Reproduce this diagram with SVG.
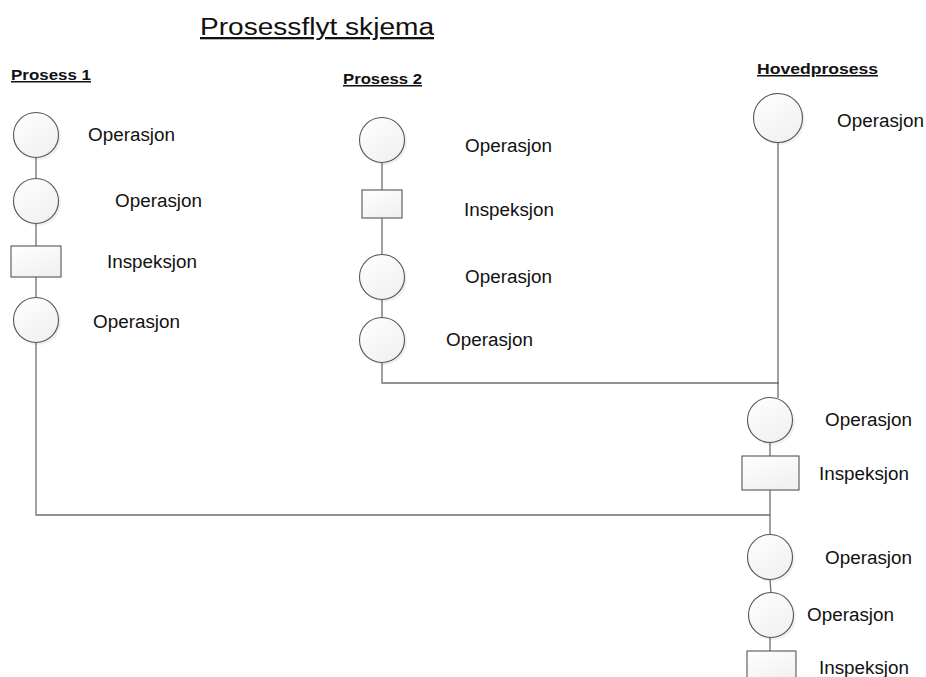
<svg xmlns="http://www.w3.org/2000/svg" width="926" height="677" viewBox="0 0 926 677">
  <style>
    text { font-family: "Liberation Sans", Arial, sans-serif; fill: #111; }
    .title { font-size: 23px; text-decoration: underline; }
    .head { font-size: 15px; font-weight: bold; text-decoration: underline; }
    .lbl { font-size: 18px; }
    .op { fill: url(#shade); stroke: #555; stroke-width: 1.1; }
    .insp { fill: url(#shade); stroke: #555; stroke-width: 1.1; }
    .shadow { fill: #000; opacity: 0.06; }
    .conn { fill: none; stroke: #6f6f6f; stroke-width: 1.3; }
  </style>
  <defs>
    <linearGradient id="shade" x1="0" y1="0" x2="0.6" y2="1">
      <stop offset="0" stop-color="#ffffff"/>
      <stop offset="1" stop-color="#f1f1f1"/>
    </linearGradient>
  </defs>
  <rect width="926" height="677" fill="#fff"/>

  <text class="title" x="200" y="35" textLength="234" lengthAdjust="spacingAndGlyphs">Prosessflyt skjema</text>

  <!-- connectors -->
  <g id="connectors">
    <!-- Prosess 1 -->
    <path class="conn" d="M36 157 V179 M36 224 V246 M36 277 V298 M36 343 V515 H770"/>
    <!-- Prosess 2 -->
    <path class="conn" d="M382 163 V190 M382 218 V255 M382 300 V317 M382 363 V383 H779"/>
    <!-- Hovedprosess -->
    <path class="conn" d="M778 142 V398 M770 443 V456 M770 490 V535 M770 580 L771 593 M770 637 V651"/>
  </g>

  <!-- Prosess 1 -->
  <g id="p1-head"><text class="head" x="11" y="80" textLength="80" lengthAdjust="spacingAndGlyphs">Prosess 1</text></g>
  <g id="p1-op1">
    <circle class="shadow" cx="38" cy="137" r="23"/>
    <circle class="op" cx="36" cy="135" r="22.5"/>
    <text class="lbl" x="88" y="141" textLength="87" lengthAdjust="spacingAndGlyphs">Operasjon</text>
  </g>
  <g id="p1-op2">
    <circle class="shadow" cx="38" cy="203" r="23"/>
    <circle class="op" cx="36" cy="201" r="22.5"/>
    <text class="lbl" x="115" y="207" textLength="87" lengthAdjust="spacingAndGlyphs">Operasjon</text>
  </g>
  <g id="p1-insp1">
    <rect class="insp" x="11" y="246" width="50" height="31"/>
    <text class="lbl" x="107" y="268" textLength="90" lengthAdjust="spacingAndGlyphs">Inspeksjon</text>
  </g>
  <g id="p1-op3">
    <circle class="shadow" cx="38" cy="322" r="23"/>
    <circle class="op" cx="36" cy="320" r="22.5"/>
    <text class="lbl" x="93" y="328" textLength="87" lengthAdjust="spacingAndGlyphs">Operasjon</text>
  </g>

  <!-- Prosess 2 -->
  <g id="p2-head"><text class="head" x="343" y="84" textLength="79" lengthAdjust="spacingAndGlyphs">Prosess 2</text></g>
  <g id="p2-op1">
    <circle class="shadow" cx="384" cy="142" r="23"/>
    <circle class="op" cx="382" cy="140" r="22.5"/>
    <text class="lbl" x="465" y="152" textLength="87" lengthAdjust="spacingAndGlyphs">Operasjon</text>
  </g>
  <g id="p2-insp1">
    <rect class="insp" x="362" y="190" width="40" height="28"/>
    <text class="lbl" x="464" y="216" textLength="90" lengthAdjust="spacingAndGlyphs">Inspeksjon</text>
  </g>
  <g id="p2-op2">
    <circle class="shadow" cx="384" cy="279" r="23"/>
    <circle class="op" cx="382" cy="277" r="22.5"/>
    <text class="lbl" x="465" y="283" textLength="87" lengthAdjust="spacingAndGlyphs">Operasjon</text>
  </g>
  <g id="p2-op3">
    <circle class="shadow" cx="384" cy="342" r="23"/>
    <circle class="op" cx="382" cy="340" r="22.5"/>
    <text class="lbl" x="446" y="346" textLength="87" lengthAdjust="spacingAndGlyphs">Operasjon</text>
  </g>

  <!-- Hovedprosess -->
  <g id="hp-head"><text class="head" x="757" y="74" textLength="121" lengthAdjust="spacingAndGlyphs">Hovedprosess</text></g>
  <g id="hp-op1">
    <circle class="shadow" cx="780" cy="120" r="25"/>
    <circle class="op" cx="778" cy="118" r="24.5"/>
    <text class="lbl" x="837" y="127" textLength="87" lengthAdjust="spacingAndGlyphs">Operasjon</text>
  </g>
  <g id="hp-op2">
    <circle class="shadow" cx="772" cy="422" r="23"/>
    <circle class="op" cx="770" cy="420" r="22.5"/>
    <text class="lbl" x="825" y="426" textLength="87" lengthAdjust="spacingAndGlyphs">Operasjon</text>
  </g>
  <g id="hp-insp1">
    <rect class="insp" x="742" y="456" width="57" height="34"/>
    <text class="lbl" x="819" y="480" textLength="90" lengthAdjust="spacingAndGlyphs">Inspeksjon</text>
  </g>
  <g id="hp-op3">
    <circle class="shadow" cx="772" cy="559" r="23"/>
    <circle class="op" cx="770" cy="557" r="22.5"/>
    <text class="lbl" x="825" y="564" textLength="87" lengthAdjust="spacingAndGlyphs">Operasjon</text>
  </g>
  <g id="hp-op4">
    <circle class="shadow" cx="773" cy="617" r="23"/>
    <circle class="op" cx="771" cy="615" r="22.5"/>
    <text class="lbl" x="807" y="621" textLength="87" lengthAdjust="spacingAndGlyphs">Operasjon</text>
  </g>
  <g id="hp-insp2">
    <rect class="insp" x="747" y="651" width="49" height="34"/>
    <text class="lbl" x="819" y="674" textLength="90" lengthAdjust="spacingAndGlyphs">Inspeksjon</text>
  </g>
</svg>
